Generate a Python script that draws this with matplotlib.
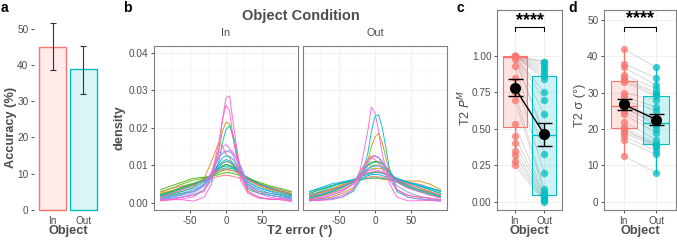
import numpy as np
import matplotlib
matplotlib.use("Agg")
import matplotlib.pyplot as plt
from matplotlib.colors import to_rgba

plt.rcParams['font.family'] = ['Liberation Sans', 'DejaVu Sans']
plt.rcParams['axes.unicode_minus'] = False

# ---- data ----
conds = ["In", "Out"]
acc_mean = [45.0, 38.8]
acc_lo = [38.5, 32.0]
acc_hi = [51.5, 45.3]

err_grid = [-90, -75, -60, -45, -30, -20, -10, -5, 0, 5, 10, 20, 30, 45, 60, 75, 90]
# density per subject, in units of 1e-3
dens_in = [
    [3.0, 3.8, 4.5, 5.0, 5.8, 6.5, 7.0, 7.2, 7.3, 7.2, 7.0, 6.5, 6.0, 5.0, 4.2, 3.5, 2.8],
    [2.0, 2.5, 3.0, 4.0, 6.5, 11, 16, 15, 13, 12, 10, 7, 4.5, 3.0, 2.5, 2.0, 1.5],
    [2.5, 3.2, 4.0, 4.8, 6.0, 7.5, 9.5, 10.5, 11.0, 10.8, 10.0, 8.0, 6.0, 4.5, 3.5, 2.8, 2.0],
    [2.0, 3.0, 4.0, 5.0, 6.0, 7.5, 9.0, 9.8, 10.2, 10.0, 9.5, 8.0, 6.5, 5.0, 4.0, 3.0, 2.0],
    [1.5, 2.0, 2.5, 3.0, 4.5, 8, 14, 19, 21.5, 21, 17, 8, 3.5, 2.5, 2.0, 1.5, 1.0],
    [2.8, 3.8, 5.0, 6.0, 6.5, 7.2, 8.0, 8.5, 8.8, 8.7, 8.5, 7.8, 6.8, 5.2, 4.0, 3.2, 2.5],
    [3.5, 4.5, 5.5, 6.5, 6.8, 7.0, 7.5, 7.8, 8.0, 8.0, 7.8, 7.2, 6.5, 5.5, 4.5, 3.8, 3.0],
    [2.2, 3.0, 4.2, 5.2, 6.2, 7.5, 9.0, 9.8, 10.2, 10.0, 9.5, 8.0, 6.2, 4.8, 3.8, 3.0, 2.2],
    [2.0, 2.8, 3.8, 4.8, 5.8, 7.0, 8.5, 9.0, 9.3, 9.2, 9.0, 7.8, 6.5, 5.0, 4.0, 3.0, 2.0],
    [1.5, 2.2, 3.0, 4.0, 5.5, 7.5, 10, 11, 11.5, 11.2, 10.5, 8.0, 5.5, 4.0, 3.2, 2.5, 1.8],
    [0.8, 1.2, 1.5, 2.0, 3.5, 6, 11, 16, 19.5, 20.5, 18, 9, 4, 2.5, 2.0, 1.5, 1.0],
    [1.8, 2.5, 3.5, 4.5, 6.0, 7.5, 9.0, 9.5, 9.8, 9.6, 9.2, 8.0, 6.5, 5.0, 4.0, 3.0, 2.2],
    [1.0, 1.5, 2.2, 3.0, 4.5, 7.0, 10.5, 12, 12.5, 12.3, 11.5, 8.5, 5.0, 3.5, 2.5, 2.0, 1.2],
    [1.2, 1.8, 2.5, 3.5, 5.0, 7.0, 9.5, 10.5, 11.0, 10.8, 10.2, 8.0, 5.5, 4.0, 3.0, 2.2, 1.5],
    [1.0, 1.5, 2.0, 3.0, 5.0, 8.0, 12, 13.5, 13.8, 13.5, 13, 10, 5.0, 3.0, 2.0, 1.5, 1.0],
    [0.8, 1.0, 1.5, 2.5, 4.5, 8, 12, 13, 13.5, 14, 13.5, 9.5, 4.5, 2.5, 1.5, 1.0, 0.8],
    [0.5, 0.8, 1.0, 1.5, 3.5, 7, 13, 15, 15.5, 14.5, 12.5, 7, 3, 1.5, 1.0, 0.8, 0.5],
    [1.0, 0.8, 0.8, 0.4, 1.5, 5, 14, 22, 28, 28.5, 21, 8, 3, 1.5, 0.8, 1.2, 0.5],
    [0.5, 0.8, 1.5, 2.0, 3.0, 7, 16, 22, 26, 24.5, 17, 6, 2.5, 1.2, 1.0, 0.8, 0.3],
    [1.5, 2.5, 3.5, 4.5, 6.0, 7.5, 8.5, 8.8, 9.0, 8.8, 8.5, 7.5, 6.2, 4.8, 3.8, 3.0, 2.2],
]
dens_out = [
    [2.5, 3.5, 4.5, 5.5, 6.0, 6.5, 6.8, 7.0, 7.0, 6.9, 6.8, 6.5, 6.0, 5.5, 5.0, 4.0, 3.0],
    [1.5, 2.0, 2.5, 3.5, 5.0, 8.0, 11.5, 12.5, 12.5, 12, 11, 8, 5.5, 4.0, 3.5, 2.8, 2.0],
    [2.0, 2.8, 3.5, 4.5, 5.5, 6.0, 6.5, 6.5, 6.5, 6.5, 6.3, 6.0, 5.8, 5.8, 5.8, 5.0, 3.5],
    [0.8, 1.0, 1.5, 2.5, 4.0, 6.5, 11, 15, 17.5, 18.5, 16, 8, 3.5, 2.0, 1.5, 1.2, 0.8],
    [2.0, 2.8, 3.8, 4.8, 5.8, 7.0, 8.5, 9.0, 9.2, 9.2, 9.0, 7.8, 6.0, 4.5, 3.5, 2.8, 2.0],
    [1.5, 2.5, 3.5, 4.5, 5.5, 7.0, 9.0, 9.8, 10.0, 10.0, 9.5, 8.0, 6.0, 4.8, 4.0, 3.0, 2.0],
    [1.0, 1.8, 2.8, 4.0, 5.5, 7.5, 10, 10.8, 11, 11, 10.5, 8.5, 5.8, 4.0, 3.0, 2.2, 1.5],
    [2.5, 3.5, 4.5, 5.2, 6.0, 7.0, 7.8, 8.0, 8.2, 8.2, 8.0, 7.5, 6.5, 5.5, 4.5, 3.5, 2.5],
    [1.2, 2.0, 3.0, 4.2, 5.5, 7.5, 9.8, 10.5, 10.8, 10.8, 10.2, 8.2, 5.5, 4.2, 3.2, 2.5, 1.5],
    [3.0, 3.8, 4.5, 5.2, 5.8, 6.2, 6.5, 6.6, 6.6, 6.6, 6.5, 6.2, 5.8, 5.2, 4.5, 3.8, 3.0],
    [0.5, 0.8, 1.0, 1.5, 3.0, 6, 13, 19, 23, 23.5, 20, 9, 3.0, 1.5, 1.0, 0.8, 0.5],
    [2.0, 3.0, 4.2, 5.5, 6.2, 7.0, 7.5, 7.8, 8.0, 8.0, 7.8, 7.2, 6.5, 5.5, 4.5, 3.5, 2.5],
    [3.0, 4.0, 5.0, 5.5, 6.0, 6.5, 7.2, 7.5, 7.5, 7.5, 7.2, 6.8, 6.2, 5.5, 4.8, 4.0, 3.2],
    [1.5, 2.2, 3.2, 4.2, 5.5, 7.2, 9.0, 9.5, 9.8, 9.8, 9.5, 8.0, 6.0, 4.5, 3.5, 2.5, 1.8],
    [0.8, 1.2, 2.0, 3.0, 5.0, 7.5, 10.5, 12, 12.5, 12, 11, 8.0, 4.5, 2.8, 1.8, 1.2, 0.8],
    [0.5, 0.8, 1.2, 2.0, 3.5, 6.5, 10.5, 12, 12.5, 12.0, 10.5, 7, 3.5, 1.5, 1.0, 0.8, 0.5],
    [1.0, 1.5, 2.5, 3.5, 5.0, 7.0, 8.5, 8.8, 8.8, 8.6, 8.2, 7.0, 5.5, 4.0, 3.0, 2.0, 1.2],
    [0.5, 0.6, 0.8, 1.5, 3.5, 9, 19, 25.5, 24, 19, 13, 5, 1.5, 0.5, 0.5, 0.6, 0.4],
    [0.8, 1.2, 2.0, 3.0, 5.0, 8.5, 11.5, 12, 11.5, 10.5, 9.0, 6.0, 3.5, 2.0, 1.5, 1.2, 0.8],
    [1.8, 2.5, 3.5, 4.5, 5.8, 7.0, 8.0, 8.2, 8.3, 8.2, 8.0, 7.0, 6.0, 5.0, 4.0, 3.0, 2.0],
]
subj_colors = ["#F8766D", "#EA8331", "#D89000", "#C09B00", "#A3A500", "#7CAE00", "#39B600",
               "#00BB4E", "#00BF7D", "#00C1A3", "#00BFC4", "#00BAE0", "#00B0F6", "#35A2FF",
               "#9590FF", "#C77CFF", "#E76BF3", "#FA62DB", "#FF62BC", "#FF6C91"]

pm_in = [1.00, 1.00, 1.00, 1.00, 1.00, 1.00, 1.00, 1.00, 1.00, 1.00, 1.00, 1.00,
         0.98, 0.93, 0.85, 0.75, 0.70, 0.53, 0.45, 0.40, 0.35, 0.32, 0.28, 0.25]
pm_out = [0.96, 0.96, 0.94, 0.92, 0.90, 0.88, 0.86, 0.84, 0.75, 0.70, 0.60, 0.47,
          0.45, 0.33, 0.20, 0.09, 0.07, 0.05, 0.04, 0.03, 0.02, 0.01, 0.01, 0.00]
sd_in = [42, 38, 37, 35, 34, 33.5, 33, 30, 29, 28, 27, 26.5,
         26, 26, 25, 24, 22, 20.5, 20, 19.5, 19, 18, 17, 12.5]
sd_out = [37, 34, 32, 31, 30, 29.5, 29, 28, 26, 25, 23, 22,
          21.5, 21, 20, 19, 17, 16, 15.5, 15.5, 15, 14, 13, 8]

RED, CYAN = "#F8766D", "#00BFC4"
TXT = "#4D4D4D"
W, H = 677, 241

fig = plt.figure(figsize=(W / 100, H / 100), dpi=100)


def px_axes(l, t, r, b):
    return fig.add_axes([l / W, 1 - b / H, (r - l) / W, (b - t) / H])


def style(ax, box=True):
    ax.tick_params(colors="#333333", labelcolor=TXT, labelsize=7.2, length=2.5, width=0.6, pad=1.5)
    for s in ax.spines.values():
        s.set_visible(box)
        s.set_color("#7F7F7F")
        s.set_linewidth(0.8)


# ---- a ----
ax = px_axes(34, 18, 102, 214)
xs = [1, 2]
for x, m, c in zip(xs, acc_mean, [RED, CYAN]):
    ax.bar(x, m, width=0.9, color=to_rgba(c, 0.15), edgecolor=c, linewidth=1)
ax.errorbar(xs, acc_mean, yerr=[np.subtract(acc_mean, acc_lo), np.subtract(acc_hi, acc_mean)],
            fmt="none", ecolor="#333333", elinewidth=0.8, capsize=2.2, capthick=0.8)
ax.set_xlim(0.4, 2.6)
ax.set_ylim(-1.1, 52.96)
ax.set_xticks(xs, conds)
ax.set_yticks([0, 10, 20, 30, 40, 50])
style(ax, box=False)
ax.tick_params(axis="x", length=0)

# ---- b ----
for i, (dens, lab) in enumerate(zip([dens_in, dens_out], conds)):
    l = 154 if i == 0 else 303
    ax = px_axes(l, 46, l + 144, 210)
    for row, c in zip(dens, subj_colors):
        ax.plot(err_grid, np.array(row) * 1e-3, color=c, lw=0.7, alpha=0.9)
    ax.set_xlim(-99, 99)
    ax.set_ylim(-0.00195, 0.0418)
    ax.set_xticks([-50, 0, 50])
    ax.set_xticks([-75, -25, 25, 75], minor=True)
    ax.set_yticks([0, 0.01, 0.02, 0.03, 0.04])
    ax.set_yticks([0.005, 0.015, 0.025, 0.035], minor=True)
    ax.grid(True, which="major", color="#EBEBEB", lw=0.5)
    ax.grid(True, which="minor", color="#F5F5F5", lw=0.4)
    ax.set_axisbelow(True)
    style(ax)
    ax.tick_params(which="minor", length=0)
    if i == 0:
        ax.set_yticklabels(["0.00", "0.01", "0.02", "0.03", "0.04"])
    else:
        ax.tick_params(axis="y", labelleft=False, length=0)
    fig.text((l + 72) / W, 1 - 33 / H, lab, ha="center", va="center", fontsize=7.8, color=TXT)


# ---- c / d ----
def paired(ax, vin, vout, ylim, yticks, ylabels, brk):
    for a, b in zip(vin, vout):
        ax.plot([1, 2], [a, b], color="#888888", lw=0.5, alpha=0.45, zorder=1)
    bp = ax.boxplot([vin, vout], positions=[1, 2], widths=0.8, patch_artist=True,
                    showfliers=False, showcaps=False, manage_ticks=False)
    for k, c in enumerate([RED, CYAN]):
        bp["boxes"][k].set(facecolor=to_rgba(c, 0.2), edgecolor=c, linewidth=0.8, zorder=2)
        bp["medians"][k].set(color=c, linewidth=1, zorder=2)
        for w in bp["whiskers"][2 * k:2 * k + 2]:
            w.set(color=c, linewidth=1, zorder=2)
    ax.scatter(np.ones(len(vin)), vin, s=28, color=RED, alpha=0.75, lw=0, zorder=3)
    ax.scatter(np.full(len(vout), 2), vout, s=28, color=CYAN, alpha=0.75, lw=0, zorder=3)
    means = [np.mean(vin), np.mean(vout)]
    ses = [np.std(vin, ddof=1) / np.sqrt(len(vin)), np.std(vout, ddof=1) / np.sqrt(len(vout))]
    ax.plot([1, 2], means, color="black", lw=1, zorder=4)
    ax.errorbar([1, 2], means, yerr=ses, fmt="o", color="black", ms=7, elinewidth=1,
                capsize=5.4, capthick=1, zorder=5)
    b0, b1, b2 = brk
    ax.plot([1, 1, 2, 2], [b0, b1, b1, b0], color="black", lw=0.8)
    ax.text(1.5, b2, "****", ha="center", va="center", fontsize=13, fontweight="bold")
    ax.set_xlim(0.4, 2.6)
    ax.set_ylim(*ylim)
    ax.set_xticks([1, 2], conds)
    ax.set_yticks(yticks, ylabels)
    ax.set_xticks([1.5], minor=True)
    ax.grid(True, which="major", color="#EBEBEB", lw=0.5)
    ax.set_axisbelow(True)
    style(ax)
    ax.tick_params(which="minor", length=0)


ax = px_axes(497, 10, 562, 210)
paired(ax, pm_in, pm_out, (-0.057, 1.316), [0, 0.25, 0.5, 0.75, 1.0],
       ["0.00", "0.25", "0.50", "0.75", "1.00"], (1.17, 1.20, 1.245))
ax = px_axes(604, 10, 676, 210)
paired(ax, sd_in, sd_out, (-2.28, 52.75), [0, 10, 20, 30, 40, 50],
       ["0", "10", "20", "30", "40", "50"], (47.0, 48.1, 50.3))

# ---- labels ----
bold = dict(fontweight="bold", color=TXT, fontsize=9.2, ha="center", va="center")
for x in [68, 529.5, 640]:
    fig.text(x / W, 1 - 231 / H, "Object", **bold)
fig.text(300 / W, 1 - 231 / H, "T2 error (°)", **bold)
fig.text(11 / W, 1 - 127 / H, "Accuracy (%)", rotation=90, **bold)
fig.text(120 / W, 1 - 128 / H, "density", rotation=90, **bold)
fig.text(465 / W, 1 - 108 / H, r"T2 $P^M$", rotation=90, **{**bold, "fontweight": "normal"})
fig.text(580 / W, 1 - 105 / H, "T2 σ (°)", rotation=90, **{**bold, "fontweight": "normal"})
fig.text(301 / W, 1 - 16 / H, "Object Condition", fontweight="bold", color=TXT, fontsize=10.5,
         ha="center", va="center")
for lab, x in zip("abcd", [4, 127, 460, 573]):
    fig.text(x / W, 1 - 8 / H, lab, fontweight="bold", fontsize=10, ha="center", va="center")

fig.savefig("out.png", dpi=100)
